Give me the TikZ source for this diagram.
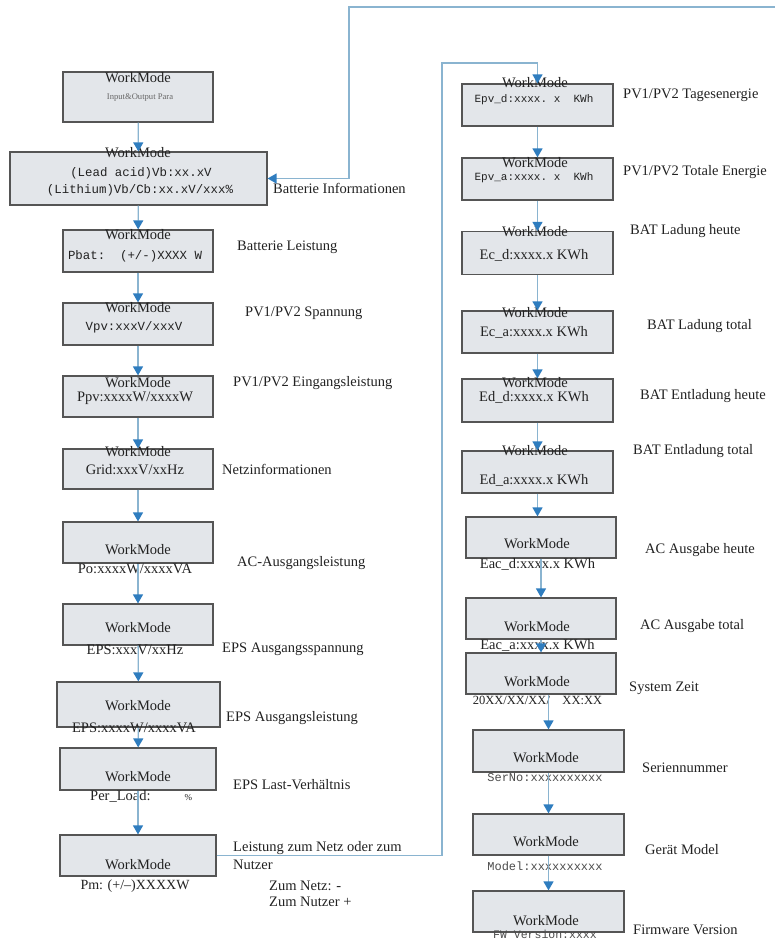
\documentclass[tikz,border=0pt]{standalone}
\usepackage{fontspec}
\setmainfont{Liberation Serif}
\setmonofont{Liberation Mono}
\usetikzlibrary{arrows.meta}
\definecolor{boxfill}{HTML}{E3E6EA}
\definecolor{boxline}{HTML}{555555}
\definecolor{conline}{HTML}{8AB4D0}
\definecolor{arrblue}{HTML}{2F7DBF}
\definecolor{txt}{HTML}{222222}
\tikzset{
  box/.style={draw=boxline, fill=boxfill, line width=1.2pt, inner sep=0pt},
  wm/.style={font=\fontsize{14.5}{15}\selectfont, text=txt, inner sep=0pt},
  sm/.style={font=\fontsize{8.6}{9}\selectfont, text=black!60, inner sep=0pt},
  mono/.style={font=\fontsize{12.4}{13}\selectfont\ttfamily, text=txt, inner sep=0pt},
  monos/.style={font=\fontsize{11}{12}\selectfont\ttfamily, text=txt, inner sep=0pt},
  lbl/.style={font=\fontsize{14.5}{15}\selectfont, text=txt, anchor=west, inner sep=0pt},
  con/.style={draw=conline, line width=1.3pt, -{Triangle[width=10pt,length=9pt,fill=arrblue,color=arrblue]}}
}
\begin{document}
\begin{tikzpicture}[x=1pt,y=-1pt]
\clip (0,0) rectangle (775,940);
\fill[white] (0,0) rectangle (775,940);
% ---------- left column boxes ----------
\node[box, minimum width=150pt, minimum height=50pt] (b1) at (138,97) {};
\node[box, minimum width=257pt, minimum height=53pt] (b2) at (138.5,178.5) {};
\node[box, minimum width=150pt, minimum height=42pt] (b3) at (138,251) {};
\node[box, minimum width=150pt, minimum height=42pt] (b4) at (138,324) {};
\node[box, minimum width=150pt, minimum height=41pt] (b5) at (138,396.5) {};
\node[box, minimum width=150pt, minimum height=40pt] (b6) at (138,469) {};
\node[box, minimum width=150pt, minimum height=41pt] (b7) at (138,542.5) {};
\node[box, minimum width=150pt, minimum height=41pt] (b8) at (138,624.5) {};
\node[box, minimum width=163pt, minimum height=45pt] (b9) at (138.5,704.5) {};
\node[box, minimum width=156pt, minimum height=42pt] (b10) at (138,769) {};
\node[box, minimum width=156pt, minimum height=41pt] (b11) at (138,855.5) {};
% ---------- right column boxes ----------
\node[box, minimum width=151pt, minimum height=42pt] (r1) at (537.5,105) {};
\node[box, minimum width=151pt, minimum height=42pt] (r2) at (537.5,179) {};
\node[box, minimum width=151pt, minimum height=43pt] (r3) at (537.5,253) {};
\node[box, minimum width=151pt, minimum height=42pt] (r4) at (537.5,332) {};
\node[box, minimum width=151pt, minimum height=43pt] (r5) at (537.5,400.5) {};
\node[box, minimum width=151pt, minimum height=42pt] (r6) at (537.5,472) {};
\node[box, minimum width=150pt, minimum height=41pt] (r7) at (541,537.5) {};
\node[box, minimum width=150pt, minimum height=41pt] (r8) at (541,618.5) {};
\node[box, minimum width=150pt, minimum height=41pt] (r9) at (541,673.5) {};
\node[box, minimum width=151pt, minimum height=42pt] (r10) at (548.5,751) {};
\node[box, minimum width=151pt, minimum height=41pt] (r11) at (548.5,834.5) {};
\node[box, minimum width=151pt, minimum height=41pt] (r12) at (548.5,911.5) {};
% ---------- left column texts ----------
\node[wm] (b1w) at (138,78) {WorkMode};
\node[sm] (b1t) at (140,98) {Input\&Output Para};
\node[wm] (b2w) at (138,153) {WorkMode};
\node[mono] (b2t) at (141,173) {(Lead acid)Vb:xx.xV};
\node[mono] (b2u) at (140,190) {(Lithium)Vb/Cb:xx.xV/xxx\%};
\node[wm] (b3w) at (138,235) {WorkMode};
\node[mono] (b3t) at (135,256) {Pbat:\ \ (+/-)XXXX W};
\node[wm] (b4w) at (138,308) {WorkMode};
\node[mono] (b4t) at (134,327) {Vpv:xxxV/xxxV};
\node[wm] (b5w) at (138,383) {WorkMode};
\node[wm] (b5t) at (135,398) {Ppv:xxxxW/xxxxW};
\node[wm] (b6w) at (138,452) {WorkMode};
\node[wm] (b6t) at (135,470) {Grid:xxxV/xxHz};
\node[wm] (b7w) at (138,550) {WorkMode};
\node[wm] (b7t) at (135,569) {Po:xxxxW/xxxxVA};
\node[wm] (b8w) at (138,628) {WorkMode};
\node[wm] (b8t) at (135,650) {EPS:xxxV/xxHz};
\node[wm] (b9w) at (138,706) {WorkMode};
\node[wm] (b9t) at (134,728) {EPS:xxxxW/xxxxVA};
\node[wm] (b10w) at (138,777) {WorkMode};
\node[wm, anchor=west] (b10t) at (90,796) {Per\_Load:\hspace{34pt}{\fontsize{9}{9}\selectfont\%}};
\node[wm] (b11w) at (138,865) {WorkMode};
\node[wm, font=\fontsize{14}{15}\selectfont] (b11t) at (135,886) {Pm: (+/--)XXXXW};
% ---------- left labels ----------
\node[lbl] (l2) at (273,188) {Batterie Informationen};
\node[lbl] (l3) at (237,247) {Batterie Leistung};
\node[lbl] (l4) at (245,313) {PV1/PV2 Spannung};
\node[lbl] (l5) at (233,383) {PV1/PV2 Eingangsleistung};
\node[lbl] (l6) at (222,469) {Netzinformationen};
\node[lbl] (l7) at (237,563) {AC-Ausgangsleistung};
\node[lbl] (l8) at (222,649) {EPS Ausgangsspannung};
\node[lbl] (l9) at (226,718) {EPS Ausgangsleistung};
\node[lbl] (l10) at (233,785) {EPS Last-Verhältnis};
\node[lbl] (l11a) at (233,848) {Leistung zum Netz oder zum};
\node[lbl] (l11b) at (233,865) {Nutzer};
\node[lbl] (l11c) at (269,886) {Zum Netz: -};
\node[lbl] (l11d) at (269,902) {Zum Nutzer +};
% ---------- right column texts ----------
\node[wm] (r1w) at (535,83) {WorkMode};
\node[monos] (r1t) at (534,100) {Epv\_d:xxxx.\ x\ \ KWh};
\node[wm] (r2w) at (535,163) {WorkMode};
\node[monos] (r2t) at (534,178) {Epv\_a:xxxx.\ x\ \ KWh};
\node[wm] (r3w) at (535,232) {WorkMode};
\node[wm] (r3t) at (534,255) {Ec\_d:xxxx.x KWh};
\node[wm] (r4w) at (535,313) {WorkMode};
\node[wm] (r4t) at (534,332) {Ec\_a:xxxx.x KWh};
\node[wm] (r5w) at (535,383) {WorkMode};
\node[wm] (r5t) at (534,397) {Ed\_d:xxxx.x KWh};
\node[wm] (r6w) at (535,451) {WorkMode};
\node[wm] (r6t) at (534,480) {Ed\_a:xxxx.x KWh};
\node[wm] (r7w) at (537,544) {WorkMode};
\node[wm] (r7t) at (537.5,564) {Eac\_d:xxxx.x KWh};
\node[wm] (r8w) at (537,627) {WorkMode};
\node[wm] (r8t) at (537.5,645) {Eac\_a:xxxx.x KWh};
\node[wm] (r9w) at (537,682) {WorkMode};
\node[wm, font=\fontsize{12.5}{13}\selectfont] (r9t) at (537.5,700) {20XX/XX/XX/\ \ \ \ XX:XX};
\node[wm] (r10w) at (546,758) {WorkMode};
\node[mono, font=\fontsize{12}{13}\selectfont\ttfamily, text=black!70] (r10t) at (545,778) {SerNo:xxxxxxxxxx};
\node[wm] (r11w) at (546,842) {WorkMode};
\node[mono, font=\fontsize{12}{13}\selectfont\ttfamily, text=black!70] (r11t) at (545,866) {Model:xxxxxxxxxx};
\node[wm] (r12w) at (546,921) {WorkMode};
\node[mono, font=\fontsize{11.5}{12}\selectfont\ttfamily, text=black!70] (r12t) at (545,934.5) {FW Version:xxxx};
% ---------- right labels ----------
\node[lbl] (m1) at (623,95) {PV1/PV2 Tagesenergie};
\node[lbl] (m2) at (623,172) {PV1/PV2 Totale Energie};
\node[lbl] (m3) at (630,231) {BAT Ladung heute};
\node[lbl] (m4) at (647,326) {BAT Ladung total};
\node[lbl] (m5) at (640,396) {BAT Entladung heute};
\node[lbl] (m6) at (633,451) {BAT Entladung total};
\node[lbl] (m7) at (645,550) {AC Ausgabe heute};
\node[lbl] (m8) at (640,626) {AC Ausgabe total};
\node[lbl] (m9) at (629,688) {System Zeit};
\node[lbl] (m10) at (642,768) {Seriennummer};
\node[lbl] (m11) at (645,850) {Gerät Model};
\node[lbl] (m12) at (633,930) {Firmware Version};
% ---------- connectors left ----------
\draw[con] (b1) -- (b2);
\draw[con] (b2) -- (b3);
\draw[con] (b3) -- (b4);
\draw[con] (b4) -- (b5);
\draw[con] (b5) -- (b6);
\draw[con] (b6) -- (b7);
\draw[con] (b7) -- (b8);
\draw[con] (b8) -- (b9);
\draw[con] (b9) -- (b10);
\draw[con] (b10) -- (b11);
% ---------- connectors right ----------
\draw[con] (r1) -- (r2);
\draw[con] (r2) -- (r3);
\draw[con] (r3) -- (r4);
\draw[con] (r4) -- (r5);
\draw[con] (r5) -- (r6);
\draw[con] (r6.south) -- (r6.south |- r7.north);
\draw[con] (r7) -- (r8);
\draw[con] (r8) -- (r9);
\draw[con] (r9.south -| r10.north) -- (r10.north);
\draw[con] (r10) -- (r11);
\draw[con] (r11) -- (r12);
% ---------- long connectors ----------
\coordinate (topend) at (776,7);
\draw[con] (topend) -- (349,7) |- (b2.east);
\draw[con] (b11.east) -- (442,855.5) -- (442,63) -| (r1.north);
\end{tikzpicture}
\end{document}
